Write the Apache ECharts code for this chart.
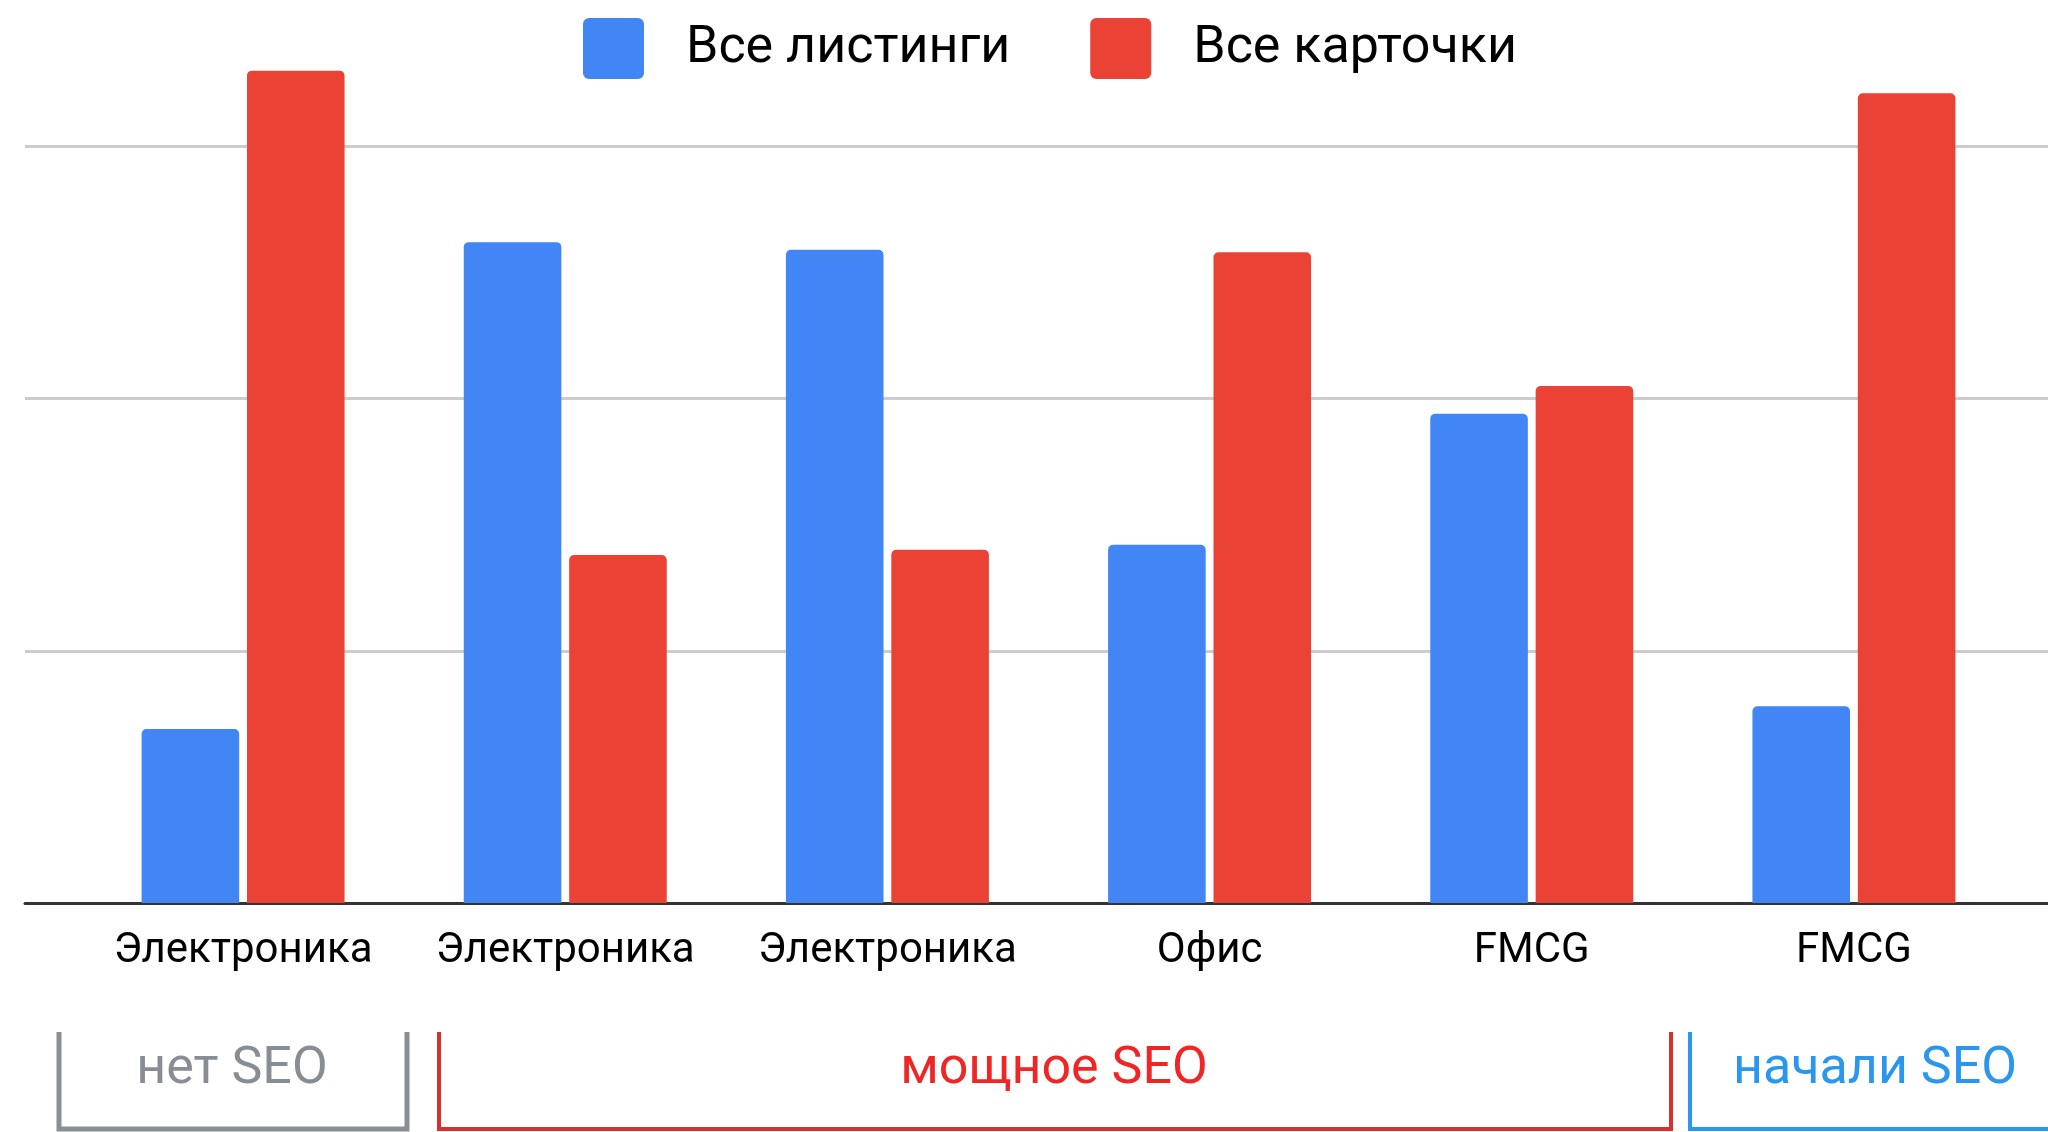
<!DOCTYPE html>
<html>
<head>
<meta charset="utf-8">
<script src="https://cdn.jsdelivr.net/npm/echarts@6/dist/echarts.min.js"></script>
<style>
  html, body { margin: 0; padding: 0; background: #fff; }
  #chart { width: 2048px; height: 1132px; }
</style>
</head>
<body>
<div id="chart"></div>
<script>
// данные
const categories = ['Электроника', 'Электроника', 'Электроника', 'Офис', 'FMCG', 'FMCG']
const listings = [6.9, 26.2, 25.9, 14.2, 19.4, 7.8]
const cards = [33.0, 13.8, 14.0, 25.8, 20.5, 32.1]
const seriesNames = ['Все листинги', 'Все карточки']
const groupLabels = ['нет SEO', 'мощное SEO', 'начали SEO']

const FONT = 'Roboto, "Noto Sans", sans-serif'
const Y_MAX = 35.8
const GRID_TOP = 0
const GRID_BOTTOM = 229

const chart = echarts.init(document.getElementById('chart'))

const iconPath = 'path://M1,0H9A1,1 0 0 1 10,1V9A1,1 0 0 1 9,10H1A1,1 0 0 1 0,9V1A1,1 0 0 1 1,0Z'

function bracket(points, color, width) {
  return {
    type: 'polyline',
    shape: { points },
    style: { stroke: color, lineWidth: width, fill: null },
    silent: true
  }
}
function groupText(text, x, y, color) {
  return {
    type: 'text',
    x, y,
    style: {
      text, fill: color, font: '52px ' + FONT,
      align: 'center', verticalAlign: 'middle'
    },
    silent: true
  }
}

const option = {
  backgroundColor: '#fff',
  animation: false,
  legend: {
    left: 583,
    top: 18,
    padding: 0,
    itemWidth: 61,
    itemHeight: 61,
    itemGap: 80,
    icon: iconPath,
    data: seriesNames,
    textStyle: { fontSize: 52, color: '#000', fontFamily: FONT, padding: [6, 0, 0, 37] }
  },
  grid: [
    { left: 82, right: 33, top: GRID_TOP, bottom: GRID_BOTTOM },
    { left: 25, right: 0, top: GRID_TOP, bottom: GRID_BOTTOM }
  ],
  xAxis: [
    {
      type: 'category',
      gridIndex: 0,
      data: categories,
      axisLine: { show: false },
      axisTick: { show: false },
      axisLabel: { interval: 0, fontSize: 42, color: '#000', fontFamily: FONT, margin: 27 }
    },
    {
      type: 'category',
      gridIndex: 1,
      data: [''],
      axisLine: { show: true, lineStyle: { color: '#333', width: 3 } },
      axisTick: { show: false },
      axisLabel: { show: false }
    }
  ],
  yAxis: [
    {
      type: 'value', gridIndex: 0, min: 0, max: Y_MAX, interval: 10,
      show: false
    },
    {
      type: 'value', gridIndex: 1, min: 0, max: Y_MAX, interval: 10,
      axisLine: { show: false },
      axisTick: { show: false },
      axisLabel: { show: false },
      splitLine: { show: true, showMaxLine: false, lineStyle: { color: '#cccccc', width: 3 } }
    }
  ],
  series: [
    {
      name: seriesNames[0],
      type: 'bar',
      data: listings,
      barGap: '8%',
      barCategoryGap: '37%',
      itemStyle: { color: '#4285F4', borderRadius: [5, 5, 0, 0] }
    },
    {
      name: seriesNames[1],
      type: 'bar',
      data: cards,
      barGap: '8%',
      barCategoryGap: '37%',
      itemStyle: { color: '#EA4335', borderRadius: [5, 5, 0, 0] }
    }
  ],
  graphic: [
    bracket([[59, 1032], [59, 1129], [407, 1129], [407, 1032]], '#8a8f96', 5),
    bracket([[439, 1032], [439, 1129], [1671, 1129], [1671, 1032]], '#d9302f', 4),
    bracket([[1690, 1032], [1690, 1129], [2060, 1129]], '#2a96ee', 4),
    groupText(groupLabels[0], 232, 1070, '#888d94'),
    groupText(groupLabels[1], 1054, 1070, '#f02626'),
    groupText(groupLabels[2], 1875, 1070, '#2a96ee')
  ]
}

chart.setOption(option)
window.addEventListener('resize', () => chart.resize())
</script>
</body>
</html>
